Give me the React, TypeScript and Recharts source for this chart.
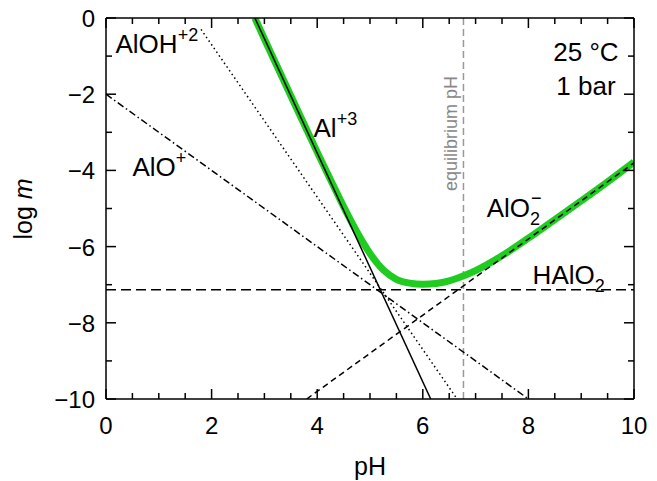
import React from 'react';
import { LineChart, Line, XAxis, YAxis, ReferenceLine, ReferenceDot } from 'recharts';

// axis ticks (minor every 0.5, labelled every 2)
const xTicks = [0, 0.5, 1, 1.5, 2, 2.5, 3, 3.5, 4, 4.5, 5, 5.5, 6, 6.5, 7, 7.5, 8, 8.5, 9, 9.5, 10];
const xLabelled = [0, 2, 4, 6, 8, 10];
const yTicks = [-10, -9.5, -9, -8.5, -8, -7.5, -7, -6.5, -6, -5.5, -5, -4.5, -4, -3.5, -3, -2.5, -2, -1.5, -1, -0.5, 0];
const yLabelled = [0, -2, -4, -6, -8, -10];

// species lines (pH, log m)
const al3 = [{ x: 2.82, y: 0 }, { x: 6.15, y: -10 }];
const aloh2 = [{ x: 1.8, y: -0.3 }, { x: 6.65, y: -10 }];
const alo = [{ x: 0, y: -2 }, { x: 8, y: -10 }];
const halo2 = [{ x: 0, y: -7.13 }, { x: 10, y: -7.13 }];
const alo2 = [{ x: 3.8, y: -10 }, { x: 10, y: -3.8 }];

// total dissolved Al
const totalPH = [2.82, 3, 3.5, 4, 4.25, 4.5, 4.75, 5, 5.25, 5.5, 5.75, 6, 6.25, 6.5, 6.75, 7, 7.5, 8, 8.5, 9, 9.5, 10];
const totalLogM = [0, -0.55, -2.04, -3.52, -4.24, -4.95, -5.61, -6.18, -6.61, -6.86, -6.96, -6.99, -6.97, -6.9, -6.78, -6.63, -6.24, -5.78, -5.29, -4.8, -4.3, -3.78];
const total = totalPH.map((x, i) => ({ x, y: totalLogM[i] }));

const equilibriumPH = 6.77;

const FONT = '"Liberation Sans", Arial, Helvetica, sans-serif';
const fmt = (v: number) => (v < 0 ? '\u2212' + Math.abs(v) : String(v));

function BottomTick({ x, y, payload }: any) {
  const major = xLabelled.includes(payload.value);
  return (
    <g>
      <line x1={x} y1={y} x2={x} y2={y - (major ? 10 : 6)} stroke="#000" strokeWidth={1.5} />
      {major && (
        <text x={x} y={y + 35} textAnchor="middle" fontSize={24} fill="#000">
          {payload.value}
        </text>
      )}
    </g>
  );
}

function TopTick({ x, y, payload }: any) {
  const major = xLabelled.includes(payload.value);
  return <line x1={x} y1={y} x2={x} y2={y + (major ? 10 : 6)} stroke="#000" strokeWidth={1.5} />;
}

function LeftTick({ x, y, payload }: any) {
  const major = yLabelled.includes(payload.value);
  return (
    <g>
      <line x1={x} y1={y} x2={x + (major ? 10 : 6)} y2={y} stroke="#000" strokeWidth={1.5} />
      {major && (
        <text x={x - 11} y={y + 9} textAnchor="end" fontSize={24} fill="#000">
          {fmt(payload.value)}
        </text>
      )}
    </g>
  );
}

function RightTick({ x, y, payload }: any) {
  const major = yLabelled.includes(payload.value);
  return <line x1={x} y1={y} x2={x - (major ? 10 : 6)} y2={y} stroke="#000" strokeWidth={1.5} />;
}

// place arbitrary svg at a data point
const at = (draw: (x: number, y: number) => React.ReactNode) => (props: any) => {
  const vb = props.viewBox || {};
  return <g>{draw(vb.x + (vb.width || 0) / 2, vb.y + (vb.height || 0) / 2)}</g>;
};

const txt = { fontSize: 26, fill: '#000' };
const sup = 18;

export default function App() {
  return (
    <div style={{ position: 'absolute', left: 0, top: 0, background: '#fff', fontFamily: FONT }}>
      <LineChart width={657} height={481} margin={{ top: 17, right: 22, bottom: 0, left: 0 }}>
        <XAxis
          xAxisId="bottom"
          type="number"
          dataKey="x"
          domain={[0, 10]}
          ticks={xTicks}
          allowDataOverflow
          height={82}
          tickSize={0}
          tickMargin={0}
          tick={BottomTick}
          axisLine={{ stroke: '#000', strokeWidth: 1.5 }}
        />
        <XAxis
          xAxisId="top"
          orientation="top"
          type="number"
          dataKey="x"
          domain={[0, 10]}
          ticks={xTicks}
          allowDataOverflow
          height={1}
          tickSize={0}
          tickMargin={0}
          tick={TopTick}
          axisLine={{ stroke: '#000', strokeWidth: 1.5 }}
        />
        <YAxis
          yAxisId="left"
          type="number"
          dataKey="y"
          domain={[-10, 0]}
          ticks={yTicks}
          allowDataOverflow
          width={106}
          tickSize={0}
          tickMargin={0}
          tick={LeftTick}
          axisLine={{ stroke: '#000', strokeWidth: 1.5 }}
        />
        <YAxis
          yAxisId="right"
          orientation="right"
          type="number"
          dataKey="y"
          domain={[-10, 0]}
          ticks={yTicks}
          allowDataOverflow
          width={1}
          tickSize={0}
          tickMargin={0}
          tick={RightTick}
          axisLine={{ stroke: '#000', strokeWidth: 1.5 }}
        />

        <ReferenceLine
          xAxisId="bottom"
          yAxisId="left"
          x={equilibriumPH}
          stroke="#999"
          strokeWidth={1.5}
          strokeDasharray="7 4"
        />

        <Line xAxisId="bottom" yAxisId="left" data={total} dataKey="y" type="monotone" stroke="#1fcc1f" strokeWidth={7} dot={false} activeDot={false} isAnimationActive={false} />
        <Line xAxisId="bottom" yAxisId="left" data={al3} dataKey="y" type="linear" stroke="#000" strokeWidth={1.5} dot={false} activeDot={false} isAnimationActive={false} />
        <Line xAxisId="bottom" yAxisId="left" data={aloh2} dataKey="y" type="linear" stroke="#000" strokeWidth={1.5} strokeDasharray="1.5 3" dot={false} activeDot={false} isAnimationActive={false} />
        <Line xAxisId="bottom" yAxisId="left" data={alo} dataKey="y" type="linear" stroke="#000" strokeWidth={1.5} strokeDasharray="7 3 1.5 3" dot={false} activeDot={false} isAnimationActive={false} />
        <Line xAxisId="top" yAxisId="right" data={halo2} dataKey="y" type="linear" stroke="#000" strokeWidth={1.5} strokeDasharray="10 5" dot={false} activeDot={false} isAnimationActive={false} />
        <Line xAxisId="bottom" yAxisId="left" data={alo2} dataKey="y" type="linear" stroke="#000" strokeWidth={1.5} strokeDasharray="6 4" dot={false} activeDot={false} isAnimationActive={false} />

        {/* species labels */}
        <ReferenceDot xAxisId="bottom" yAxisId="left" x={0.18} y={-0.91} r={0} fill="none" stroke="none"
          label={at((x, y) => (
            <text x={x} y={y} {...txt}>AlOH<tspan dy={-12} fontSize={sup}>+2</tspan></text>
          ))} />
        <ReferenceDot xAxisId="bottom" yAxisId="left" x={0.5} y={-4.16} r={0} fill="none" stroke="none"
          label={at((x, y) => (
            <text x={x} y={y} {...txt}>AlO<tspan dy={-12} fontSize={sup}>+</tspan></text>
          ))} />
        <ReferenceDot xAxisId="bottom" yAxisId="left" x={3.93} y={-3.12} r={0} fill="none" stroke="none"
          label={at((x, y) => (
            <text x={x} y={y} {...txt}>Al<tspan dy={-12} fontSize={sup}>+3</tspan></text>
          ))} />
        <ReferenceDot xAxisId="bottom" yAxisId="left" x={7.21} y={-5.22} r={0} fill="none" stroke="none"
          label={at((x, y) => (
            <text x={x} y={y} {...txt}>AlO<tspan dy={8} fontSize={sup}>2</tspan><tspan dx={-9} dy={-21} fontSize={sup}>{'\u2212'}</tspan></text>
          ))} />
        <ReferenceDot xAxisId="bottom" yAxisId="left" x={8.08} y={-6.97} r={0} fill="none" stroke="none"
          label={at((x, y) => (
            <text x={x} y={y} {...txt}>HAlO<tspan dy={8} fontSize={sup}>2</tspan></text>
          ))} />
        <ReferenceDot xAxisId="bottom" yAxisId="left" x={9.09} y={-1.14} r={0} fill="none" stroke="none"
          label={at((x, y) => (
            <text x={x} y={y} textAnchor="middle" {...txt}>25 °C</text>
          ))} />
        <ReferenceDot xAxisId="bottom" yAxisId="left" x={9.09} y={-2.03} r={0} fill="none" stroke="none"
          label={at((x, y) => (
            <text x={x} y={y} textAnchor="middle" {...txt}>1 bar</text>
          ))} />
        <ReferenceDot xAxisId="bottom" yAxisId="left" x={6.65} y={-3.03} r={0} fill="none" stroke="none"
          label={at((x, y) => (
            <text x={x} y={y} textAnchor="middle" fontSize={18} fill="#888" transform={`rotate(-90 ${x} ${y})`}>equilibrium pH</text>
          ))} />
      </LineChart>

      {/* axis titles */}
      <svg width={657} height={481} style={{ position: 'absolute', left: 0, top: 0, pointerEvents: 'none' }}>
        <text x={370} y={475} textAnchor="middle" fontSize={25} fill="#000" fontFamily={FONT}>pH</text>
        <text x={32} y={209} textAnchor="middle" fontSize={25} fill="#000" fontFamily={FONT} transform="rotate(-90 32 209)">
          log <tspan fontStyle="italic">m</tspan>
        </text>
      </svg>
    </div>
  );
}
